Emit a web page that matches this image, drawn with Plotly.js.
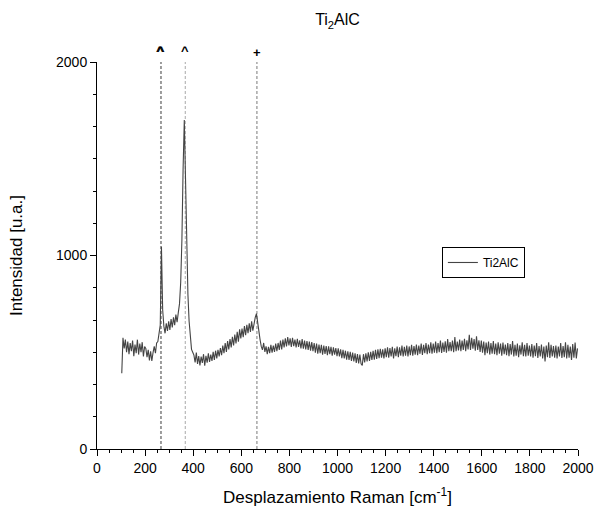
<!DOCTYPE html>
<html>
<head>
<meta charset="utf-8">
<script src="https://cdn.plot.ly/plotly-3.0.1.min.js"></script>
<style>
html,body{margin:0;padding:0;background:#fff;}
#chart{width:598px;height:515px;}
</style>
</head>
<body>
<div id="chart"></div>
<script>
// Raman shift sampling: first shift and step (cm^-1)
const shiftStart = 103;
const shiftStep = 5;

// Intensity [u.a.], one row per 100 cm^-1
const intensity = [
  392, 575, 520, 565, 500, 555, 490, 548, 505, 560, 480, 540, 495, 565, 488, 545, 500, 552, 478, 530,
  520, 475, 512, 458, 505, 455, 498, 530, 495, 548, 555, 590, 640, 1045, 720, 635, 598, 650, 610, 660,
  615, 672, 628, 680, 640, 695, 655, 705, 750, 860, 1080, 1450, 1700, 1400, 1050, 800, 660, 575, 515, 500,
  485, 448, 498, 440, 480, 432, 478, 445, 490, 430, 482, 446, 495, 450, 488, 455, 502, 460, 508, 468,
  512, 478, 522, 485, 535, 495, 548, 502, 558, 515, 568, 525, 580, 535, 592, 545, 605, 555, 618, 572,
  622, 578, 635, 588, 642, 598, 650, 605, 660, 612, 655, 680, 700, 648, 605, 565, 530, 512, 548, 502,
  530, 490, 528, 495, 538, 498, 535, 502, 545, 505, 548, 512, 560, 515, 565, 525, 572, 530, 578, 535,
  572, 528, 575, 532, 565, 525, 570, 528, 562, 520, 568, 518, 560, 515, 558, 512, 555, 508, 552, 505,
  548, 498, 545, 492, 540, 495, 538, 488, 535, 492, 532, 485, 530, 490, 528, 482, 525, 488, 522, 480,
  520, 478, 515, 470, 512, 468, 508, 462, 505, 460, 502, 455, 498, 452, 495, 445, 490, 442, 488, 440,
  432, 490, 448, 495, 452, 500, 455, 502, 460, 508, 462, 512, 465, 515, 470, 518, 472, 515, 468, 520,
  475, 525, 472, 522, 478, 528, 468, 520, 480, 530, 475, 525, 482, 535, 478, 528, 482, 535, 478, 530,
  485, 538, 482, 532, 488, 540, 485, 535, 492, 545, 486, 538, 495, 548, 490, 540, 495, 552, 492, 545,
  498, 555, 495, 548, 500, 560, 496, 550, 502, 556, 498, 568, 505, 552, 506, 560, 500, 578, 505, 555,
  510, 565, 505, 560, 512, 570, 506, 562, 515, 590, 512, 575, 518, 568, 508, 582, 512, 562, 502, 560,
  498, 555, 485, 550, 495, 555, 488, 548, 492, 558, 490, 545, 485, 552, 492, 545, 482, 550, 490, 540,
  485, 548, 480, 542, 488, 558, 478, 538, 482, 545, 475, 536, 488, 552, 480, 538, 478, 548, 482, 535,
  478, 542, 472, 535, 480, 548, 470, 532, 478, 540, 468, 530, 452, 535, 475, 552, 470, 538, 478, 532,
  472, 535, 468, 530, 478, 548, 470, 532, 475, 552, 468, 538, 472, 530, 460, 542, 472, 550, 468, 520
];

// Reference band positions (cm^-1) and their markers
const bandPositions = [264, 268, 367, 665];
const bandMarkers = ['^', '^', '^', '+'];
const bandColors = ['#9a9a9a', '#9a9a9a', '#a8a8a8', '#7a7a7a'];

const seriesName = 'Ti2AlC';
const chartTitle = 'Ti<sub>2</sub>AlC';
const xTitle = 'Desplazamiento Raman [cm<sup>-1</sup>]';
const yTitle = 'Intensidad [u.a.]';

const FONT = '"Liberation Sans", Arial, sans-serif';

const trace = {
  type: 'scatter',
  mode: 'lines',
  name: seriesName,
  x0: shiftStart,
  dx: shiftStep,
  y: intensity,
  line: {color: '#444444', width: 1.1},
  showlegend: true
};

const shapes = bandPositions.map((p, i) => ({
  type: 'line', xref: 'x', yref: 'paper',
  x0: p, x1: p, y0: 0, y1: 1,
  line: {color: bandColors[i], width: 1, dash: '3px,2px'},
  layer: 'below'
}));

const annotations = bandPositions.map((p, i) => ({
  xref: 'x', yref: 'paper', x: p, y: 1,
  yanchor: 'bottom', xanchor: 'center',
  yshift: bandMarkers[i] === '+' ? 0 : 2,
  text: '<b>' + bandMarkers[i] + '</b>',
  showarrow: false,
  font: {family: FONT, size: 13, color: '#000'}
}));

const layout = {
  width: 598, height: 515,
  margin: {l: 97, r: 20, t: 62, b: 66, pad: 0},
  paper_bgcolor: '#fff', plot_bgcolor: '#fff',
  font: {family: FONT, color: '#000', size: 14},
  title: {
    text: chartTitle,
    font: {family: FONT, size: 16, color: '#000'},
    x: 0.5, xref: 'paper', xanchor: 'center',
    y: 0.962, yref: 'container', yanchor: 'middle'
  },
  xaxis: {
    range: [0, 2000],
    tick0: 0, dtick: 200,
    ticks: 'outside', ticklen: 6, tickwidth: 1, tickcolor: '#000',
    minor: {dtick: 50, tick0: 0, ticks: 'outside', ticklen: 3, tickwidth: 1, tickcolor: '#000'},
    showline: true, linecolor: '#000', linewidth: 1,
    showgrid: false, zeroline: false,
    tickfont: {family: FONT, size: 14, color: '#000'},
    title: {text: xTitle, font: {family: FONT, size: 17, color: '#000'}, standoff: 16}
  },
  yaxis: {
    range: [0, 2000],
    tick0: 0, dtick: 1000,
    ticks: 'outside', ticklen: 6, tickwidth: 1, tickcolor: '#000',
    minor: {dtick: 1000 / 6, tick0: 0, ticks: 'outside', ticklen: 3, tickwidth: 1, tickcolor: '#000'},
    showline: true, linecolor: '#000', linewidth: 1,
    showgrid: false, zeroline: false,
    tickfont: {family: FONT, size: 14, color: '#000'},
    title: {text: yTitle, font: {family: FONT, size: 17, color: '#000'}, standoff: 29}
  },
  legend: {
    x: 0.717, y: 0.522, xanchor: 'left', yanchor: 'top',
    bgcolor: '#fff', bordercolor: '#000', borderwidth: 1,
    font: {family: FONT, size: 12, color: '#000'},
    itemwidth: 30, tracegroupgap: 0
  },
  shapes: shapes,
  annotations: annotations,
  showlegend: true
};

Plotly.newPlot('chart', [trace], layout, {staticPlot: true, displayModeBar: false});
</script>
</body>
</html>
